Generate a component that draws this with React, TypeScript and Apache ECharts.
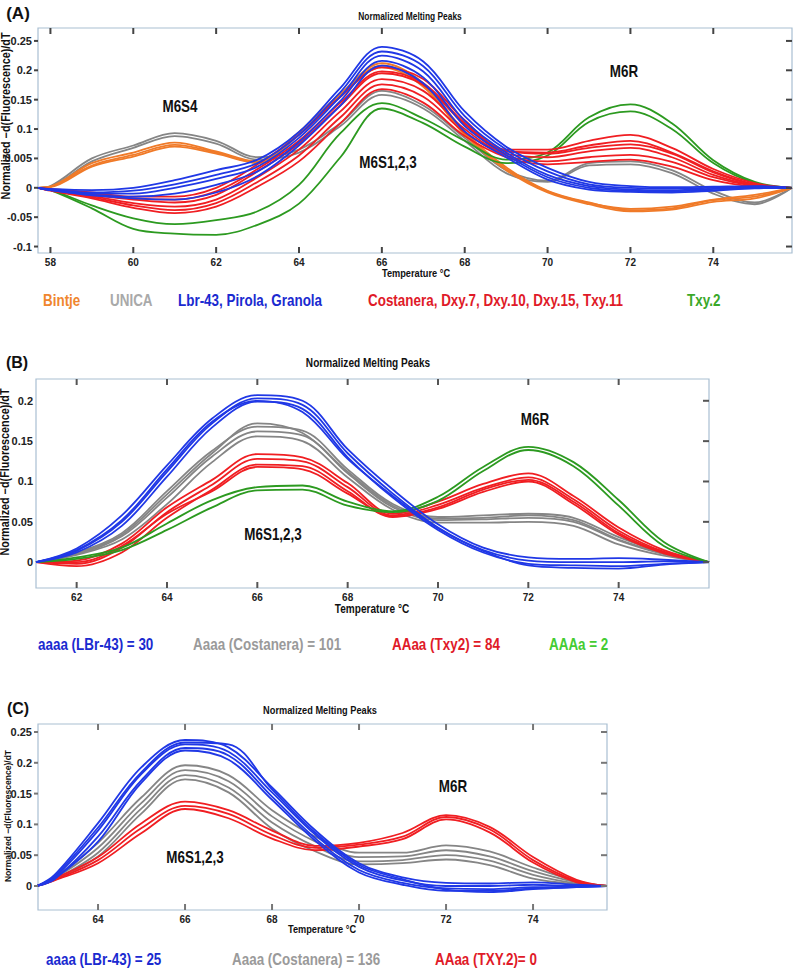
import React, { useEffect, useRef } from "react";
import * as echarts from "echarts";

// ---------- Panel A ----------
const tempsA = [57.7, 58, 59, 60, 61, 62, 63, 64, 65, 66, 67, 68, 69, 70, 71, 72, 73, 74, 75, 75.9];
const xTicksA = [58, 60, 62, 64, 66, 68, 70, 72, 74];
const yTicksA = [-0.1, -0.05, 0, 0.05, 0.1, 0.15, 0.2, 0.25];
const yTickLabelsA = ["-0.1", "-0.05", "0", "0.005", "0.1", "0.15", "0.2", "0.25"];
const bintjeA = [
  [0, 0.002, 0.042, 0.06, 0.077, 0.062, 0.045, 0.095, 0.16, 0.212, 0.178, 0.095, 0.035, -0.005, -0.025, -0.038, -0.035, -0.021, -0.015, 0],
  [0, 0.001, 0.036, 0.053, 0.07, 0.058, 0.042, 0.09, 0.155, 0.205, 0.172, 0.09, 0.03, -0.008, -0.028, -0.04, -0.037, -0.024, -0.018, 0],
  [0, 0.002, 0.038, 0.056, 0.073, 0.06, 0.043, 0.092, 0.158, 0.208, 0.175, 0.092, 0.032, -0.006, -0.026, -0.036, -0.032, -0.02, -0.012, 0],
];
const unicaA = [
  [0, 0.003, 0.05, 0.072, 0.093, 0.08, 0.052, 0.065, 0.11, 0.165, 0.14, 0.085, 0.03, 0.012, 0.042, 0.045, 0.03, -0.005, -0.025, 0],
  [0, 0.002, 0.045, 0.068, 0.088, 0.075, 0.048, 0.06, 0.105, 0.158, 0.135, 0.08, 0.025, 0.01, 0.038, 0.04, 0.025, -0.01, -0.028, 0],
];
const lbrA = [
  [0, -0.002, -0.004, 0.0, 0.013, 0.03, 0.048, 0.095, 0.17, 0.24, 0.215, 0.13, 0.07, 0.034, 0.01, 0.003, 0.001, 0.002, 0.003, 0],
  [0, -0.003, -0.008, -0.005, 0.006, 0.022, 0.042, 0.09, 0.163, 0.232, 0.207, 0.122, 0.065, 0.028, 0.006, 0.0, -0.001, 0.0, 0.002, 0],
  [0, -0.003, -0.01, -0.01, 0.0, 0.015, 0.036, 0.085, 0.155, 0.225, 0.198, 0.114, 0.06, 0.022, 0.003, -0.003, -0.004, -0.002, 0.001, 0],
  [0, -0.004, -0.012, -0.015, -0.01, 0.005, 0.028, 0.078, 0.148, 0.216, 0.188, 0.105, 0.056, 0.018, 0.0, -0.005, -0.006, -0.004, 0.0, 0],
  [0, -0.004, -0.013, -0.018, -0.02, -0.008, 0.02, 0.072, 0.14, 0.208, 0.178, 0.096, 0.052, 0.014, -0.003, -0.007, -0.008, -0.005, -0.001, 0],
];
const costaneraA = [
  [0, -0.002, -0.008, -0.015, -0.015, 0.0, 0.04, 0.09, 0.155, 0.205, 0.185, 0.115, 0.065, 0.065, 0.08, 0.09, 0.068, 0.032, 0.008, 0],
  [0, -0.003, -0.012, -0.02, -0.025, -0.012, 0.028, 0.075, 0.14, 0.195, 0.175, 0.108, 0.062, 0.06, 0.072, 0.08, 0.06, 0.028, 0.006, 0],
  [0, -0.004, -0.014, -0.026, -0.032, -0.02, 0.018, 0.065, 0.13, 0.185, 0.165, 0.1, 0.058, 0.052, 0.062, 0.068, 0.052, 0.022, 0.004, 0],
  [0, -0.004, -0.016, -0.03, -0.038, -0.026, 0.01, 0.055, 0.12, 0.176, 0.155, 0.094, 0.055, 0.045, 0.052, 0.056, 0.044, 0.018, 0.003, 0],
  [0, -0.005, -0.018, -0.034, -0.043, -0.032, 0.002, 0.045, 0.11, 0.168, 0.145, 0.088, 0.052, 0.04, 0.044, 0.048, 0.036, 0.013, 0.002, 0],
  [0, -0.003, -0.01, -0.018, -0.02, -0.006, 0.032, 0.08, 0.145, 0.198, 0.178, 0.11, 0.063, 0.058, 0.068, 0.074, 0.058, 0.026, 0.005, 0],
];
const txy2A = [
  [0, -0.003, -0.03, -0.052, -0.062, -0.055, -0.04, 0.005, 0.093, 0.144, 0.118, 0.08, 0.048, 0.06, 0.12, 0.142, 0.11, 0.047, 0.01, 0],
  [0, -0.004, -0.035, -0.07, -0.078, -0.08, -0.063, -0.027, 0.052, 0.135, 0.11, 0.07, 0.042, 0.055, 0.112, 0.13, 0.1, 0.042, 0.008, 0],
];

// ---------- Panel B ----------
const tempsB = [61.1, 62, 63, 64, 65, 66, 67, 68, 69, 70, 71, 72, 73, 74, 75, 76];
const xTicksB = [62, 64, 66, 68, 70, 72, 74];
const yTicksB = [0, 0.05, 0.1, 0.15, 0.2];
const yTickLabelsB = ["0", "0.05", "0.1", "0.15", "0.2"];
const aaaaB = [
  [0, 0.017, 0.058, 0.12, 0.178, 0.207, 0.2, 0.14, 0.09, 0.047, 0.018, 0.006, 0.004, 0.005, 0.003, 0],
  [0, 0.014, 0.05, 0.112, 0.172, 0.203, 0.195, 0.135, 0.085, 0.043, 0.015, 0.002, 0.0, 0.0, 0.001, 0],
  [0, 0.012, 0.045, 0.106, 0.167, 0.199, 0.19, 0.13, 0.08, 0.04, 0.012, -0.002, -0.004, -0.005, -0.002, 0],
  [0, 0.015, 0.052, 0.115, 0.174, 0.2, 0.186, 0.128, 0.082, 0.042, 0.014, -0.004, -0.007, -0.008, -0.003, 0],
];
const AaaaB = [
  [0, 0.012, 0.036, 0.088, 0.138, 0.168, 0.163, 0.115, 0.072, 0.056, 0.058, 0.06, 0.055, 0.031, 0.012, 0],
  [0, 0.01, 0.032, 0.08, 0.131, 0.162, 0.157, 0.11, 0.068, 0.052, 0.053, 0.055, 0.05, 0.027, 0.01, 0],
  [0, 0.009, 0.028, 0.072, 0.124, 0.156, 0.15, 0.105, 0.065, 0.049, 0.049, 0.05, 0.045, 0.022, 0.008, 0],
  [0, 0.011, 0.034, 0.084, 0.135, 0.172, 0.16, 0.112, 0.07, 0.054, 0.055, 0.058, 0.052, 0.028, 0.011, 0],
];
const AAaaB = [
  [0, 0.002, 0.023, 0.068, 0.102, 0.134, 0.13, 0.098, 0.06, 0.075, 0.097, 0.11, 0.082, 0.043, 0.015, 0],
  [0, -0.002, 0.018, 0.062, 0.096, 0.128, 0.125, 0.093, 0.058, 0.071, 0.092, 0.105, 0.078, 0.039, 0.013, 0],
  [0, -0.005, 0.012, 0.055, 0.09, 0.121, 0.119, 0.088, 0.056, 0.066, 0.087, 0.1, 0.072, 0.034, 0.011, 0],
  [0, 0.0, 0.02, 0.06, 0.088, 0.118, 0.115, 0.085, 0.057, 0.068, 0.09, 0.102, 0.075, 0.036, 0.012, 0],
];
const AAAaB = [
  [0, 0.006, 0.018, 0.048, 0.077, 0.093, 0.095, 0.075, 0.063, 0.081, 0.118, 0.143, 0.124, 0.077, 0.025, 0],
  [0, 0.004, 0.015, 0.04, 0.068, 0.089, 0.09, 0.07, 0.062, 0.076, 0.113, 0.139, 0.119, 0.07, 0.02, 0],
];

// ---------- Panel C ----------
const tempsC = [62.6, 63, 64, 65, 66, 67, 68, 69, 70, 71, 72, 73, 74, 75, 75.7];
const xTicksC = [64, 66, 68, 70, 72, 74];
const yTicksC = [0, 0.05, 0.1, 0.15, 0.2, 0.25];
const yTickLabelsC = ["0", "0.05", "0.1", "0.15", "0.2", "0.25"];
const aaaaC = [
  [0, 0.018, 0.102, 0.193, 0.237, 0.225, 0.16, 0.09, 0.037, 0.014, 0.005, 0.004, 0.006, 0.002, 0],
  [0, 0.014, 0.09, 0.182, 0.23, 0.218, 0.152, 0.083, 0.031, 0.009, 0.0, 0.0, 0.002, 0.0, 0],
  [0, 0.011, 0.08, 0.172, 0.224, 0.212, 0.145, 0.077, 0.026, 0.005, -0.004, -0.005, -0.002, -0.001, 0],
  [0, 0.016, 0.095, 0.185, 0.233, 0.23, 0.157, 0.086, 0.034, 0.011, -0.006, -0.01, -0.005, -0.002, 0],
  [0, 0.012, 0.072, 0.168, 0.22, 0.205, 0.14, 0.073, 0.022, 0.002, -0.008, -0.008, -0.004, -0.002, 0],
];
const AaaaC = [
  [0, 0.014, 0.07, 0.144, 0.196, 0.18, 0.123, 0.08, 0.054, 0.054, 0.066, 0.056, 0.03, 0.008, 0],
  [0, 0.012, 0.062, 0.135, 0.188, 0.17, 0.113, 0.072, 0.047, 0.048, 0.058, 0.048, 0.024, 0.006, 0],
  [0, 0.01, 0.054, 0.126, 0.18, 0.16, 0.103, 0.064, 0.04, 0.042, 0.05, 0.041, 0.018, 0.004, 0],
  [0, 0.011, 0.048, 0.118, 0.173, 0.152, 0.093, 0.056, 0.035, 0.037, 0.043, 0.034, 0.012, 0.003, 0],
];
const AAaaC = [
  [0, 0.012, 0.047, 0.102, 0.137, 0.123, 0.09, 0.065, 0.07, 0.086, 0.115, 0.096, 0.047, 0.01, 0],
  [0, 0.01, 0.042, 0.094, 0.13, 0.117, 0.083, 0.062, 0.067, 0.08, 0.112, 0.092, 0.042, 0.008, 0],
  [0, 0.009, 0.037, 0.086, 0.125, 0.11, 0.077, 0.058, 0.064, 0.076, 0.108, 0.087, 0.038, 0.006, 0],
];

const FONT = "'Liberation Sans', Arial, sans-serif";
const NARROW = 0.84;
const C_BLUE = "#2038e6";
const C_RED = "#f01e22";
const C_GREY = "#858585";
const C_ORANGE = "#f07a28";
const C_GREEN = "#2c9a20";
const C_FRAME = "#a9bfd2";

type Panel = {
  grid: { left: number; top: number; width: number; height: number };
  xMin: number; xMax: number; yMin: number; yMax: number;
  xTicks: number[]; yTicks: number[]; yLabels: string[];
  leftTicks: boolean; tickColor: string;
};

const panels: Panel[] = [
  { grid: { left: 38, top: 28, width: 754, height: 225 }, xMin: 57.7, xMax: 75.9, yMin: -0.111, yMax: 0.272,
    xTicks: xTicksA, yTicks: yTicksA, yLabels: yTickLabelsA, leftTicks: true, tickColor: "#444" },
  { grid: { left: 36, top: 379, width: 673, height: 209 }, xMin: 61.1, xMax: 76, yMin: -0.032, yMax: 0.227,
    xTicks: xTicksB, yTicks: yTicksB, yLabels: yTickLabelsB, leftTicks: false, tickColor: "#555" },
  { grid: { left: 38, top: 724, width: 569, height: 186 }, xMin: 62.62, xMax: 75.7, yMin: -0.039, yMax: 0.263,
    xTicks: xTicksC, yTicks: yTicksC, yLabels: yTickLabelsC, leftTicks: true, tickColor: "#777" },
];

function curveSeries(temps: number[], curves: number[][], color: string, idx: number) {
  return curves.map((c) => ({
    type: "line",
    xAxisIndex: idx * 2,
    yAxisIndex: idx * 2,
    data: temps.map((t, i) => [t, c[i]]),
    showSymbol: false,
    smooth: 0.35,
    lineStyle: { color, width: 1.8 },
    itemStyle: { color },
    silent: true,
  }));
}

function txt(x: number, y: number, text: string, fill: string, font: string, align = "center", rotation = 0, scaleX = NARROW) {
  return {
    type: "text",
    x, y, rotation, scaleX,
    style: { text, fill, font, align, verticalAlign: "middle", textAlign: align, textVerticalAlign: "middle" },
  };
}

// frame tick marks for a panel, from its axis extents and tick values
function frameTicks(p: Panel) {
  const g = p.grid;
  const fx = (t: number) => g.left + ((t - p.xMin) / (p.xMax - p.xMin)) * g.width;
  const fy = (v: number) => g.top + ((p.yMax - v) / (p.yMax - p.yMin)) * g.height;
  const box = (x: number, y: number, w: number, h: number) => ({
    type: "rect", silent: true, z: 100,
    shape: { x, y, width: w, height: h },
    style: { fill: p.tickColor },
  });
  const out: any[] = [];
  p.xTicks.forEach((t) => {
    const x = fx(t);
    out.push(box(x - 1, g.top + g.height - 6, 2, 6));
    out.push(box(x - 1, g.top, 2, 6));
  });
  p.yTicks.forEach((v) => {
    const y = fy(v);
    out.push(box(g.left + g.width - 6, y - 1, 6, 2));
    if (p.leftTicks) out.push(box(g.left - 4, y - 1, 4, 2));
  });
  return out;
}

export default function App() {
  const ref = useRef<HTMLDivElement>(null);
  useEffect(() => {
    if (!ref.current) return;
    const chart = echarts.init(ref.current, undefined, { renderer: "svg" });
    const xAxis: any[] = [];
    const yAxis: any[] = [];
    panels.forEach((p, i) => {
      const line = { show: false, onZero: false };
      xAxis.push({
        type: "value", gridIndex: i, min: p.xMin, max: p.xMax, position: "bottom",
        axisLine: line, splitLine: { show: false }, axisTick: { show: false },
        axisLabel: { customValues: p.xTicks, fontSize: 10, fontWeight: "bold", color: "#222", margin: 4, fontFamily: FONT },
      });
      yAxis.push({
        type: "value", gridIndex: i, min: p.yMin, max: p.yMax, position: "left",
        axisLine: line, splitLine: { show: false }, axisTick: { show: false },
        axisLabel: {
          customValues: p.yTicks, fontSize: 11, fontWeight: "bold", color: "#222", margin: p.leftTicks ? 6 : 3, fontFamily: FONT,
          formatter: (v: number) => {
            const k = p.yTicks.findIndex((t) => Math.abs(t - v) < 1e-9);
            return k >= 0 ? p.yLabels[k] : "";
          },
        },
      });
    });

    const groups: [number[], number[][], string, number][] = [
      [tempsA, unicaA, C_GREY, 0],
      [tempsA, bintjeA, C_ORANGE, 0],
      [tempsA, txy2A, C_GREEN, 0],
      [tempsA, costaneraA, C_RED, 0],
      [tempsA, lbrA, C_BLUE, 0],
      [tempsB, AaaaB, C_GREY, 1],
      [tempsB, AAaaB, C_RED, 1],
      [tempsB, AAAaB, C_GREEN, 1],
      [tempsB, aaaaB, C_BLUE, 1],
      [tempsC, AaaaC, C_GREY, 2],
      [tempsC, AAaaC, C_RED, 2],
      [tempsC, aaaaC, C_BLUE, 2],
    ];
    const series: any[] = [];
    groups.forEach(([t, c, col, idx]) => {
      curveSeries(t, c, col, idx).forEach((s) => {
        s.xAxisIndex = idx;
        s.yAxisIndex = idx;
        series.push(s);
      });
    });

    const bold = (s: number) => `bold ${s}px ${FONT}`;
    const yName = "Normalized \u2212d(Fluorescence)/dT";
    const texts: any[] = [
      // Panel A
      txt(18, 13, "(A)", "#111", bold(17), "center", 0, 1),
      txt(410, 17, "Normalized Melting Peaks", "#111", bold(10)),
      txt(6, 116, yName, "#111", bold(12), "center", Math.PI / 2, 0.9),
      txt(416, 273, "Temperature \u00b0C", "#111", bold(11)),
      txt(180, 107, "M6S4", "#111", bold(16)),
      txt(388, 163, "M6S1,2,3", "#111", bold(16)),
      txt(624, 72, "M6R", "#111", bold(16)),
      txt(43, 301, "Bintje", "#f0862e", bold(16), "left"),
      txt(110, 301, "UNICA", "#a9a9a9", bold(16), "left"),
      txt(178, 301, "Lbr-43, Pirola, Granola", "#1a2ad0", bold(16), "left"),
      txt(368, 301, "Costanera, Dxy.7, Dxy.10, Dxy.15, Txy.11", "#e01a28", bold(16), "left"),
      txt(687, 301, "Txy.2", "#3aa828", bold(16), "left"),
      // Panel B
      txt(17, 362, "(B)", "#111", bold(16), "center", 0, 1),
      txt(368, 363, "Normalized Melting Peaks", "#111", bold(12)),
      txt(5, 472, yName, "#111", bold(12), "center", Math.PI / 2, 0.9),
      txt(372, 609, "Temperature \u00b0C", "#111", bold(12)),
      txt(273, 535, "M6S1,2,3", "#111", bold(16)),
      txt(535, 420, "M6R", "#111", bold(16)),
      txt(38, 645, "aaaa (LBr-43) = 30", "#1a2ad0", bold(16), "left"),
      txt(193, 645, "Aaaa (Costanera) = 101", "#9a9a9a", bold(16), "left"),
      txt(392, 645, "AAaa (Txy2) = 84", "#e01a28", bold(16), "left"),
      txt(549, 645, "AAAa = 2", "#44cc33", bold(16), "left"),
      // Panel C
      txt(18, 708, "(C)", "#111", bold(16), "center", 0, 1),
      txt(320, 710, "Normalized Melting Peaks", "#111", bold(11)),
      txt(8, 816, yName, "#111", bold(9), "center", Math.PI / 2, 0.95),
      txt(322, 929, "Temperature \u00b0C", "#111", bold(11)),
      txt(195, 858, "M6S1,2,3", "#111", bold(16)),
      txt(453, 787, "M6R", "#111", bold(16)),
      txt(46, 960, "aaaa (LBr-43) = 25", "#1a2ad0", bold(16), "left"),
      txt(232, 960, "Aaaa (Costanera) = 136", "#9a9a9a", bold(16), "left"),
      txt(435, 960, "AAaa (TXY.2)= 0", "#e01a28", bold(16), "left"),
    ];
    const ticks = panels.flatMap((p) => frameTicks(p));

    chart.setOption({
      animation: false,
      backgroundColor: "#ffffff",
      grid: panels.map((p) => ({
        ...p.grid, show: true, borderColor: C_FRAME, borderWidth: 1.2, backgroundColor: "transparent", containLabel: false,
      })),
      xAxis,
      yAxis,
      series,
      graphic: { elements: [...texts, ...ticks] },
    });

    return () => chart.dispose();
  }, []);
  return <div ref={ref} style={{ position: "absolute", left: 0, top: 0, width: 793, height: 972 }} />;
}
